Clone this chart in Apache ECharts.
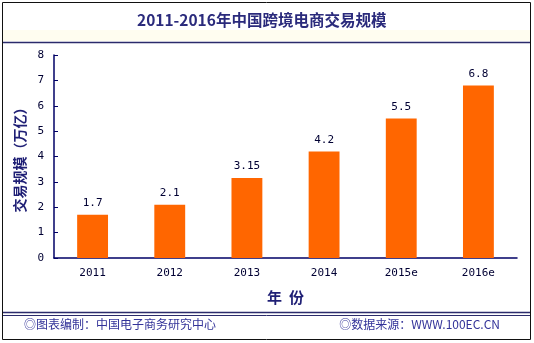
<!DOCTYPE html>
<html><head><meta charset="utf-8">
<script src="https://cdn.jsdelivr.net/npm/echarts@6/dist/echarts.min.js"></script>
<style>html,body{margin:0;padding:0;background:#fff}#c{width:534px;height:343px}</style>
</head><body><div id="c"></div>
<script>
var categories = ['2011','2012','2013','2014','2015e','2016e'];
var values = [1.7, 2.1, 3.15, 4.2, 5.5, 6.8];
var yTicks = [0,1,2,3,4,5,6,7,8];
var titleText = '2011-2016年中国跨境电商交易规模';
var yName = '交易规模（万亿）';
var xName = '年  份';
var footLeft = '◎图表编制：中国电子商务研究中心';
var footRight = '◎数据来源：WWW.100EC.CN';

var navy = '#1f1f75';
var chart = echarts.init(document.getElementById('c'), null, {renderer:'canvas'});
chart.setOption({
  animation:false,
  backgroundColor:'#fff',
  grid:{left:54, right:17, top:55, bottom:85},
  xAxis:{type:'category', data:categories,
    axisLine:{lineStyle:{color:'#000066', width:1.5}},
    axisTick:{inside:true, length:4, lineStyle:{color:'#000066'}},
    axisLabel:{color:'#000033', fontSize:11, fontFamily:'DejaVu Sans Mono', margin:10},
    name:xName, nameLocation:'middle', nameGap:32,
    nameTextStyle:{color:navy, fontSize:15, fontWeight:'bold', fontFamily:'Noto Sans CJK SC'}
  },
  yAxis:{type:'value', min:0, max:8, interval:1,
    axisLine:{show:true, lineStyle:{color:'#000066', width:1.5}},
    axisTick:{show:true, inside:true, length:4, lineStyle:{color:'#000066'}},
    splitLine:{show:false},
    axisLabel:{color:'#000033', fontSize:11, fontFamily:'DejaVu Sans Mono', margin:10,
      formatter:function(v){return yTicks.indexOf(v)>=0? String(v):'';}},
    name:yName, nameLocation:'middle', nameGap:23, nameRotate:90,
    nameTextStyle:{color:navy, fontSize:14, fontWeight:'bold', fontFamily:'Noto Sans CJK SC'}
  },
  series:[{type:'bar', data:values, barWidth:'40%',
    itemStyle:{color:'#ff6600'},
    label:{show:true, position:'top', distance:6, color:'#000033', fontSize:11, fontFamily:'DejaVu Sans Mono',
      formatter:function(p){return String(p.value);}}
  }],
  graphic:[
    {type:'rect', shape:{x:2.5,y:2.5,width:528,height:337}, style:{fill:null, stroke:'#111', lineWidth:1}, z:-1},
    {type:'rect', shape:{x:3,y:30,width:527,height:11}, style:{fill:'#fffdf0', stroke:null}, z:-2},
    {type:'line', shape:{x1:3,y1:42.5,x2:530,y2:42.5}, style:{stroke:'#2b2b6b', lineWidth:1.5}},
    {type:'text', left:137, top:12, style:{text:titleText, fill:'#2a2a7c', fontSize:15.5, fontWeight:'bold', fontFamily:'Noto Sans CJK SC'}},
    {type:'line', shape:{x1:3,y1:312.5,x2:530,y2:312.5}, style:{stroke:'#2b2b6b', lineWidth:1.5}},
    {type:'line', shape:{x1:3,y1:315.5,x2:530,y2:315.5}, style:{stroke:'#2b2b6b', lineWidth:1}},
    {type:'text', left:24, top:318, style:{text:footLeft, fill:'#333399', fontSize:12, fontFamily:'Noto Sans CJK SC'}},
    {type:'text', right:34, top:318, style:{text:footRight, fill:'#333399', fontSize:12, fontFamily:'Noto Sans CJK SC'}}
  ]
});
</script></body></html>
